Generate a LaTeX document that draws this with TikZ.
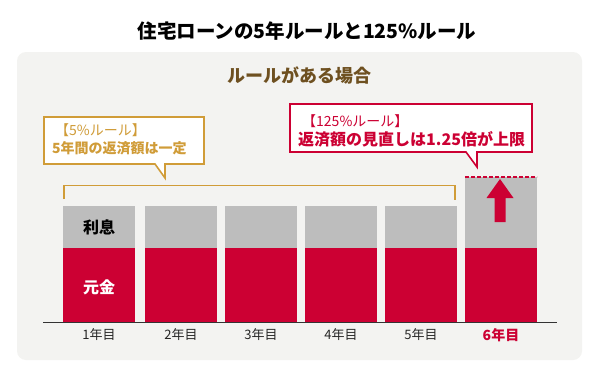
\documentclass[tikz,border=0pt]{standalone}
\usepackage{fontspec}
\setmainfont{Noto Sans CJK JP}
\usetikzlibrary{positioning}

\definecolor{LoanRed}{HTML}{CC0033}
\definecolor{RuleGold}{HTML}{D09C38}
\definecolor{TitleBrown}{HTML}{6E5020}
\definecolor{PanelGray}{HTML}{F3F3F1}
\definecolor{BarGray}{HTML}{BDBDBD}

\begin{document}
\begin{tikzpicture}[x=1pt, y=-1pt]
				\tikzstyle{Interest}	= [fill=BarGray]
				\tikzstyle{Principal}	= [fill=LoanRed]
				\tikzstyle{Year}		= [font=\fontsize{13}{13}\selectfont, text=black!85]
				\tikzstyle{GoldLine}	= [draw=RuleGold, line width=1.6pt]
				\tikzstyle{RedLine}	= [draw=LoanRed, line width=1.6pt]

				\useasboundingbox (0,0) rectangle (600,380);
				\fill [white] (0,0) rectangle (600,380);
				\fill [PanelGray, rounded corners=9pt] (17,52) rectangle (582,360);

				\node (title) at (307, 31) [font=\bfseries\fontsize{19.5}{19.5}\selectfont] {住宅ローンの5年ルールと125\%ルール};
				\node (case) at (299, 75) [font=\bfseries\fontsize{18}{18}\selectfont, text=TitleBrown] {ルールがある場合};

				% bars
				\fill [Interest] (63,206) rectangle (135,248);
				\fill [Principal] (63,248) rectangle (135,322);
				\fill [Interest] (145,206) rectangle (217,248);
				\fill [Principal] (145,248) rectangle (217,322);
				\fill [Interest] (225,206) rectangle (297,248);
				\fill [Principal] (225,248) rectangle (297,322);
				\fill [Interest] (305,206) rectangle (377,248);
				\fill [Principal] (305,248) rectangle (377,322);
				\fill [Interest] (385,206) rectangle (457,248);
				\fill [Principal] (385,248) rectangle (457,322);
				\fill [Interest] (465,177) rectangle (537,248);
				\fill [Principal] (465,248) rectangle (537,322);

				\draw [black!80, line width=0.9pt] (43,322.5) -- (557,322.5);

				\node (rishi) at (99, 227) [font=\bfseries\fontsize{16}{16}\selectfont] {利息};
				\node (ganpon) at (99, 287) [font=\bfseries\fontsize{16}{16}\selectfont, text=white] {元金};

				\node (y1) at (99, 335) [Year] {1年目};
				\node (y2) at (181, 335) [Year] {2年目};
				\node (y3) at (261, 335) [Year] {3年目};
				\node (y4) at (341, 335) [Year] {4年目};
				\node (y5) at (421, 335) [Year] {5年目};
				\node (y6) at (501, 335) [Year, text=LoanRed, font=\bfseries\fontsize{14}{14}\selectfont] {6年目};

				% 5% rule
				\draw [GoldLine] (64,199) -- (64,185.5) -- (455,185.5) -- (455,200);
				\draw [GoldLine, fill=white, line join=miter] (44,117) -- (204,117) -- (204,164) -- (165,164) -- (165,178) -- (155,164) -- (44,164) -- cycle;
				\node (gold1) at (55, 130) [anchor=west, inner sep=0pt, text=RuleGold, font=\fontsize{14}{14}\selectfont] {【5\%ルール】};
				\node (gold2) at (52, 148) [anchor=west, inner sep=0pt, text=RuleGold, font=\bfseries\fontsize{14}{14}\selectfont] {5年間の返済額は一定};

				% 125% rule
				\draw [LoanRed, line width=1.4pt, dash pattern=on 4pt off 2pt] (465,177) -- (537,177);
				\fill [LoanRed] (500,179) -- (513.5,198) -- (505.5,198) -- (505.5,222) -- (494.5,222) -- (494.5,198) -- (486.5,198) -- cycle;
				\draw [RedLine, fill=white, line join=miter] (290,104) -- (532,104) -- (532,152) -- (477,152) -- (477,167) -- (466,152) -- (290,152) -- cycle;
				\node (red1) at (302, 121) [anchor=west, inner sep=0pt, text=LoanRed, font=\fontsize{14}{14}\selectfont] {【125\%ルール】};
				\node (red2) at (298, 139) [anchor=west, inner sep=0pt, text=LoanRed, font=\bfseries\fontsize{16}{16}\selectfont] {返済額の見直しは1.25倍が上限};
\end{tikzpicture}
\end{document}
